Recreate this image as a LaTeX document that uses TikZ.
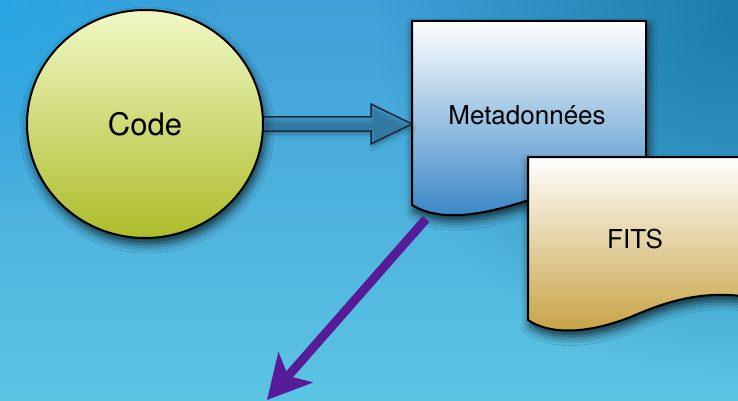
\documentclass[tikz,border=0pt]{standalone}
\usepackage{fontspec}
\setmainfont{TeX Gyre Heros}
\usetikzlibrary{shapes.geometric,arrows.meta,calc,fadings,shadows.blur}

\definecolor{bgtop}{HTML}{3F9FD8}
\definecolor{bgbottom}{HTML}{5CC4E3}
\definecolor{bgdark}{HTML}{14749F}
\definecolor{bglight}{HTML}{22A9E8}
\definecolor{codetop}{HTML}{F1F8C6}
\definecolor{codebot}{HTML}{ADBC2A}
\definecolor{metamid}{HTML}{A9C5E3}
\definecolor{metabot}{HTML}{3483C4}
\definecolor{fitsmid}{HTML}{E6D7AE}
\definecolor{fitsbot}{HTML}{C6A140}
\definecolor{linkfill}{HTML}{2C6E9A}
\definecolor{linkdraw}{HTML}{18283A}
\definecolor{flowpurple}{HTML}{561C98}

\tikzfading[name=glowfade, inner color=transparent!20, outer color=transparent!100]

\tikzset{
  softshadow/.style={blur shadow={shadow xshift=2pt, shadow yshift=-6pt,
      shadow blur radius=9pt, shadow opacity=75}},
  docshape/.style={draw=black, line width=2pt, softshadow},
  label/.style={font=\fontsize{26}{30}\selectfont, text=black},
  hollowarrow/.style={draw=linkdraw, line width=1.5pt, fill=linkfill,
      fill opacity=0.35, line join=miter,
      blur shadow={shadow xshift=1pt, shadow yshift=-4pt,
      shadow blur radius=3pt, shadow opacity=25}},
  flow/.style={draw=flowpurple, line width=9pt,
      -{Stealth[length=43pt, width=45pt, inset=11pt]}}
}

\begin{document}
\begin{tikzpicture}[x=1pt, y=-1pt]
\useasboundingbox (0,0) rectangle (738,401);
\clip (0,0) rectangle (738,401);

% backdrop
\shade[top color=bgtop, bottom color=bgbottom] (0,0) rectangle (738,401);
\fill[bgdark, path fading=glowfade] (738,20) circle[radius=360];
\fill[bglight, path fading=glowfade] (0,0) circle[radius=220];

% source ellipse
\node[ellipse, draw=black, line width=2pt, minimum width=236, minimum height=228,
      top color=codetop, bottom color=codebot, softshadow,
      font=\fontsize{31}{36}\selectfont] (code) at (145,124) {Code};

% metadata document
\path[docshape, top color=white, middle color=metamid, bottom color=metabot]
  (412,21) -- (646,21) -- (646,188)
  .. controls (600,183) and (560,190) .. (529,200)
  .. controls (480,216) and (440,222) .. (412,205) -- cycle;
\node[label] (meta) at (527,115) {Metadonnées};
\coordinate (metaW) at (412,124);
\coordinate (metaS) at (426,219);

% FITS document
\path[docshape, top color=white, middle color=fitsmid, bottom color=fitsbot]
  (528,157) -- (760,157) -- (760,299)
  .. controls (725,292) and (690,292) .. (640,313)
  .. controls (590,335) and (550,335) .. (528,320) -- cycle;
\node[label] (fits) at (635,239) {FITS};

% hollow link from code to metadata
\path[hollowarrow]
  ($(code.east)+(0,-7)$) -- ($(metaW)+(-41,-7)$) -- ($(metaW)+(-41,-20)$)
  -- (metaW) -- ($(metaW)+(-41,20)$) -- ($(metaW)+(-41,7)$)
  -- ($(code.east)+(0,7)$);

% outgoing flow
\coordinate (sink) at (267,400);
\draw[flow] (metaS) -- (sink);
\end{tikzpicture}
\end{document}
